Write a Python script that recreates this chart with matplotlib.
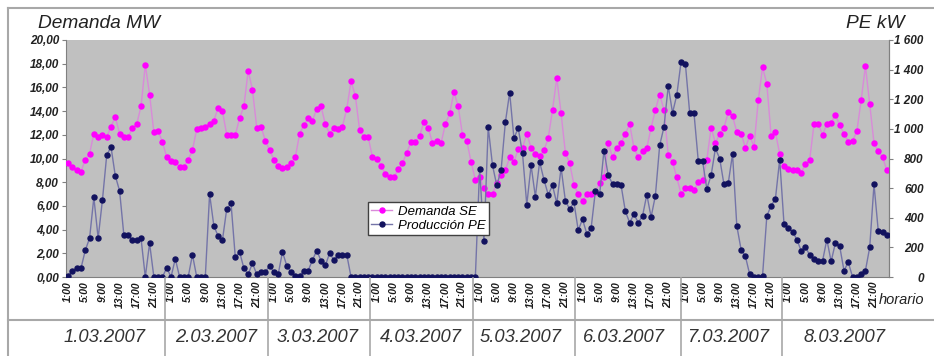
import numpy as np
import matplotlib
matplotlib.use('Agg')
import matplotlib.pyplot as plt
from matplotlib.lines import Line2D

# fechas y horas del eje de categorias
fechas = ['1.03.2007', '2.03.2007', '3.03.2007', '4.03.2007',
          '5.03.2007', '6.03.2007', '7.03.2007', '8.03.2007']
horas = ['1:00', '5:00', '9:00', '13:00', '17:00', '21:00']

# Demanda SE (MW), 24 valores horarios por dia
dem_1 = [9.6, 9.3, 9.0, 8.9, 9.9, 10.4, 12.1, 11.8, 12.0, 11.8, 12.7, 13.5,
         12.1, 11.8, 11.8, 12.6, 12.9, 14.4, 17.9, 15.4, 12.2, 12.3, 11.4, 10.1]
dem_2 = [9.8, 9.7, 9.3, 9.3, 9.9, 10.7, 12.5, 12.6, 12.7, 12.9, 13.2, 14.3,
         14.0, 12.0, 12.0, 12.0, 13.4, 14.4, 17.4, 15.8, 12.6, 12.7, 11.5, 10.7]
dem_3 = [9.9, 9.4, 9.2, 9.3, 9.6, 10.1, 12.1, 12.8, 13.4, 13.2, 14.2, 14.4,
         12.9, 12.1, 12.6, 12.5, 12.7, 14.2, 16.5, 15.3, 12.4, 11.8, 11.8, 10.1]
dem_4 = [10.0, 9.4, 8.7, 8.4, 8.4, 9.1, 9.6, 10.5, 11.4, 11.4, 11.9, 13.1,
         12.6, 11.3, 11.5, 11.3, 12.9, 13.8, 15.6, 14.4, 12.0, 11.5, 9.7, 8.2]
dem_5 = [8.4, 7.5, 7.0, 7.0, 7.9, 8.6, 9.0, 10.1, 9.7, 10.8, 10.9, 12.1,
         10.9, 10.4, 10.2, 10.7, 11.7, 14.1, 16.8, 13.8, 10.5, 9.6, 7.8, 7.0]
dem_6 = [6.4, 7.0, 7.0, 7.2, 7.9, 8.4, 11.3, 10.1, 10.9, 11.3, 12.1, 12.9,
         10.9, 10.1, 10.6, 10.9, 12.6, 14.1, 15.4, 14.1, 10.3, 9.7, 8.4, 7.0]
dem_7 = [7.5, 7.5, 7.3, 8.0, 8.2, 9.9, 12.6, 11.3, 12.1, 12.6, 13.9, 13.6,
         12.2, 12.1, 10.9, 11.9, 11.0, 14.9, 17.7, 16.3, 11.9, 12.2, 10.4, 9.4]
dem_8 = [9.1, 9.0, 9.0, 8.8, 9.5, 9.9, 12.9, 12.9, 12.0, 12.9, 13.0, 13.7,
         12.8, 12.1, 11.4, 11.5, 12.3, 14.9, 17.8, 14.6, 11.3, 10.6, 10.1, 9.0]

# Produccion PE (kW)
pe_1 = [10, 40, 60, 60, 180, 262, 537, 262, 520, 823, 878, 683,
        582, 282, 282, 250, 250, 262, 0, 228, 0, 0, 0, 62]
pe_2 = [0, 123, 0, 0, 0, 150, 0, 0, 0, 560, 344, 276,
        250, 460, 497, 132, 169, 59, 18, 93, 18, 32, 32, 77]
pe_3 = [32, 18, 169, 77, 32, 9, 9, 43, 43, 115, 178, 110,
        78, 160, 116, 150, 150, 150, 0, 0, 0, 0, 0, 0]
pe_4 = [0, 0, 0, 0, 0, 0, 0, 0, 0, 0, 0, 0,
        0, 0, 0, 0, 0, 0, 0, 0, 0, 0, 0, 0]
pe_5 = [732, 242, 1012, 754, 618, 720, 1044, 1245, 937, 1005, 834, 488,
        754, 542, 777, 657, 556, 618, 497, 738, 515, 458, 504, 315]
pe_6 = [390, 292, 328, 579, 561, 853, 686, 629, 625, 618, 443, 367,
        424, 367, 412, 556, 405, 549, 889, 1012, 1290, 1108, 1230, 1454]
pe_7 = [1438, 1108, 1108, 785, 785, 595, 686, 868, 800, 625, 634, 830,
        344, 185, 139, 18, 0, 0, 9, 412, 481, 527, 793, 360]
pe_8 = [333, 306, 253, 178, 200, 150, 123, 109, 109, 253, 105, 230,
        207, 43, 100, 0, 0, 23, 43, 200, 625, 310, 306, 283]

demanda = dem_1 + dem_2 + dem_3 + dem_4 + dem_5 + dem_6 + dem_7 + dem_8
produccion = pe_1 + pe_2 + pe_3 + pe_4 + pe_5 + pe_6 + pe_7 + pe_8

plt.rcParams['font.family'] = ['Liberation Sans', 'DejaVu Sans']
plt.rcParams['font.style'] = 'italic'

W, H = 934, 356
fig = plt.figure(figsize=(W / 100, H / 100), dpi=100)
fig.patch.set_facecolor('white')

def fx(px):
    return px / W

def fy(py):
    return 1 - py / H

ax = fig.add_axes([fx(66), fy(277), 823 / W, 237 / H])
ax.set_facecolor('#c0c0c0')
ax2 = ax.twinx()

x = np.arange(len(demanda))
ax.plot(x, demanda, color='#d98ad9', lw=1.0, marker='o', ms=3.6,
        mfc='#ff00ff', mec='#ff00ff', label='Demanda SE', zorder=3)
ax2.plot(x, produccion, color='#7474a8', lw=1.0, marker='o', ms=3.6,
         mfc='#12125e', mec='#12125e', label='Producción PE', zorder=3)

ax.set_xlim(-0.5, len(demanda) - 0.5)
ax.set_ylim(0, 20)
ax2.set_ylim(0, 1600)

# eje izquierdo
yt = np.arange(0, 21, 2)
ax.set_yticks(yt)
ax.set_yticklabels([('%.2f' % v).replace('.', ',') for v in yt],
                   fontsize=8.5, fontweight='bold', color='#222222')
ax.tick_params(axis='y', length=3, color='#808080', pad=2)

# eje derecho
yt2 = np.arange(0, 1601, 200)
ax2.set_yticks(yt2)
ax2.set_yticklabels([('{:,}'.format(v)).replace(',', ' ') for v in yt2],
                    fontsize=8.5, fontweight='bold', color='#222222')
ax2.tick_params(axis='y', length=3, color='#808080', pad=22)
plt.setp(ax2.get_yticklabels(), ha='right')

# eje de categorias
ax.set_xticks(range(0, len(demanda), 4))
ax.set_xticklabels(horas * len(fechas), rotation=90, fontsize=7.5,
                   fontweight='bold', color='#1a1a1a')
ax.tick_params(axis='x', length=0, pad=3)

for s in ['left', 'bottom', 'right']:
    ax.spines[s].set_color('#808080')
ax.spines['top'].set_visible(False)
for s in ['left', 'bottom', 'top']:
    ax2.spines[s].set_visible(False)
ax2.spines['right'].set_color('#808080')

handles = ax.get_lines() + ax2.get_lines()
leg = ax2.legend(handles, [h.get_label() for h in handles],
                 loc='lower left', bbox_to_anchor=(0.367, 0.177),
                 fontsize=9.5, frameon=True, fancybox=False, framealpha=1,
                 edgecolor='#404040', handlelength=1.6, handletextpad=0.4,
                 borderpad=0.25, labelspacing=0.15, borderaxespad=0,
                 numpoints=1)
leg.get_frame().set_linewidth(1.0)

# titulos de ejes
fig.text(fx(38), fy(23), 'Demanda MW', fontsize=13.8, ha='left', va='center',
         color='#222222')
fig.text(fx(846), fy(24), 'PE kW', fontsize=13.8, ha='left', va='center',
         color='#222222')
fig.text(fx(879), fy(300), 'horario', fontsize=10.5, ha='left', va='center',
         color='#222222')

# marco y tabla de fechas
gris = '#a8a8a8'
fig.add_artist(Line2D([fx(8), fx(934)], [fy(8), fy(8)], color=gris, lw=1.5))
fig.add_artist(Line2D([fx(8), fx(8)], [fy(8), fy(356)], color=gris, lw=1.5))
fig.add_artist(Line2D([fx(8), fx(934)], [fy(320), fy(320)], color=gris, lw=1.5))
separadores = [165, 268, 370, 473, 575, 681, 782]
for sx in separadores:
    fig.add_artist(Line2D([fx(sx), fx(sx)], [fy(278), fy(356)], color=gris, lw=1.2))

centros = [105, 216, 318, 421, 521, 624, 728, 845]
for cx, f in zip(centros, fechas):
    fig.text(fx(cx), fy(337), f, fontsize=13.2, ha='center', va='center',
             color='#333333')

fig.savefig('out.png', dpi=100)
